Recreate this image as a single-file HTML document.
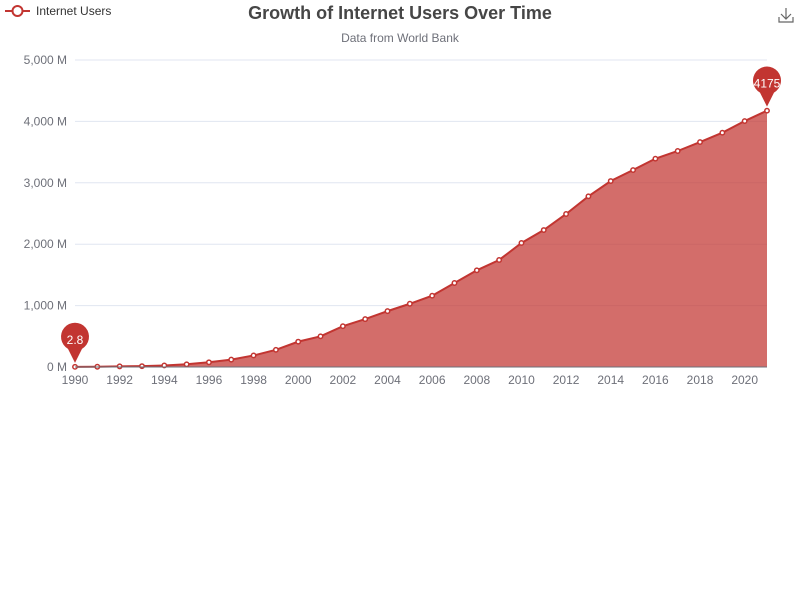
<!DOCTYPE html>
<html><head><meta charset="utf-8"><style>
html,body{margin:0;padding:0;background:#fff;}
svg{display:block;font-family:"Liberation Sans",sans-serif;}
</style></head><body>
<svg id="chart" width="800" height="600" viewBox="0 0 800 600">
<text x="400" y="19" text-anchor="middle" font-size="18" font-weight="bold" fill="#464646">Growth of Internet Users Over Time</text>
<text x="400" y="42" text-anchor="middle" font-size="12" fill="#6e7079">Data from World Bank</text>
<g>
<line x1="5" y1="11" x2="30" y2="11" stroke="#c23531" stroke-width="2"/>
<circle cx="17.5" cy="11" r="5" fill="#fff" stroke="#c23531" stroke-width="2"/>
<text x="36" y="15" font-size="12" fill="#333">Internet Users</text>
</g>
<g stroke="#666" fill="none" stroke-width="1.2">
<path d="M786 8 V19 M781 14 L786 19 L791 14 M779 17 V22 H793 V17"/>
</g>
<g id="grid"></g><g id="series"></g><g id="axes"></g><g id="marks"></g>
</svg>
<script>
const years=[1990,1991,1992,1993,1994,1995,1996,1997,1998,1999,2000,2001,2002,2003,2004,2005,2006,2007,2008,2009,2010,2011,2012,2013,2014,2015,2016,2017,2018,2019,2020,2021];
const users=[2.8,4,10,14,25,44,77,120,188,280,413,500,665,780,910,1030,1161,1368,1575,1743,2020,2231,2492,2780,3029,3208,3393,3518,3664,3816,4006,4175];
const yTicks=[0,1000,2000,3000,4000,5000];
const yTickLabels=["0 M","1,000 M","2,000 M","3,000 M","4,000 M","5,000 M"];
const NS="http://www.w3.org/2000/svg";
const x0=75,x1=767,yb=367,yt=60;
function xs(i){return x0+(x1-x0)*i/(years.length-1);}
function ys(v){return yb-(yb-yt)*v/5000;}
function mk(tag,attrs,parent){const e=document.createElementNS(NS,tag);for(const k in attrs)e.setAttribute(k,attrs[k]);document.getElementById(parent).appendChild(e);return e;}
yTicks.forEach((t,i)=>{
 if(t>0){const g=mk('line',{x1:x0,x2:x1,y1:ys(t),y2:ys(t),stroke:'#e0e6f1'},'grid');
 
 }
 const l=mk('text',{x:67,y:ys(t)+4,'text-anchor':'end','font-size':12,fill:'#6e7079'},'axes');
 
 
 l.textContent=yTickLabels[i];
});
let d='M'+xs(0)+','+ys(users[0]);
users.forEach((v,i)=>{if(i)d+=' L'+xs(i)+','+ys(v);});
const area=mk('path',{d:d+' L'+xs(users.length-1)+','+yb+' L'+x0+','+yb+' Z',fill:'rgba(194,53,49,0.72)'},'series');


const ln=mk('path',{d:d,fill:'none',stroke:'#c23531','stroke-width':2},'series');


const ax=mk('line',{x1:x0,x2:x1,y1:yb,y2:yb,stroke:'#6e7079'},'axes');


years.forEach((y,i)=>{
 if(i%2===0){const t=mk('text',{x:xs(i),y:yb+17,'text-anchor':'middle','font-size':12,fill:'#6e7079'},'axes');
 
 
 t.textContent=y;}
 const c=mk('circle',{cx:xs(i),cy:ys(users[i]),r:2.2,fill:'#fff',stroke:'#c23531','stroke-width':1.5},'series');
 
 
});
function pin(i,label){
 const x=xs(i),y=ys(users[i]);
 const p=mk('path',{d:`M${x},${y-4} L${x-7},${y-18} A14,14 0 1,1 ${x+7},${y-18} Z`,fill:'#c23531'},'marks');
 
 
 const t=mk('text',{x:x,y:y-23,'text-anchor':'middle','font-size':12,fill:'#fff'},'marks');
 
 
 t.textContent=label;
}
let mi=0,ma=0;users.forEach((v,i)=>{if(v<users[mi])mi=i;if(v>users[ma])ma=i;});
pin(mi,String(users[mi]));pin(ma,String(users[ma]));
</script>
</body></html>
